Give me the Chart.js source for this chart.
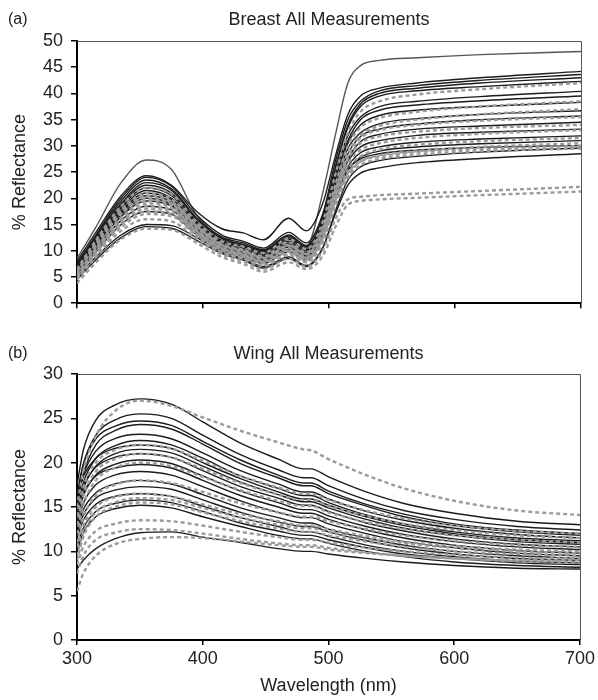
<!DOCTYPE html>
<html>
<head>
<meta charset="utf-8">
<script src="https://cdn.jsdelivr.net/npm/chart.js@4.4.1/dist/chart.umd.min.js"></script>
<style>
body{margin:0;background:#fff;}
canvas{display:block;}
</style>
</head>
<body>
<canvas id="chart-breast" width="598" height="322"></canvas>
<canvas id="chart-wing" width="598" height="378"></canvas>
<script>
// === Dados ===
const xTicks = [300, 400, 500, 600, 700];

// (a) Breast
const breastWl = [300, 315, 335, 355, 375, 395, 415, 432, 448, 468, 482, 495, 505, 515, 525, 540, 570, 620, 700];

const breastTop = [8.5, 14.5, 23, 27.3, 25.5, 16.8, 12.5, 11, 9.8, 12.3, 10.8, 21, 32, 42, 45.3, 46.3, 46.8, 47.4, 48];

const breastSolid = [
  [8, 13.5, 20.5, 24.3, 22.5, 17.5, 14.2, 13.4, 12.1, 16.2, 13.8, 19, 28, 36, 39.5, 41, 42, 43, 44.2],
  [7.5, 13, 20, 24, 22.3, 16.8, 13, 11.8, 10.5, 13.5, 11.5, 17, 27, 35, 38.5, 40.5, 41.5, 42.5, 43.6],
  [7.5, 12.8, 19.5, 23.5, 21.8, 16.3, 12.6, 11.5, 10.2, 13, 11, 16.5, 26, 34, 38, 40, 41, 42, 43],
  [7, 12.5, 19, 23, 21.5, 16, 12.3, 11.2, 10, 12.8, 10.8, 16, 25.5, 33.5, 37.5, 39.5, 40.5, 41.3, 42.3],
  [7.2, 12.2, 18.7, 22.5, 21, 15.6, 12, 11, 9.8, 12.5, 10.5, 15.5, 24.5, 32, 35.5, 37.5, 38.5, 39.4, 40.4],
  [6.8, 12, 18.3, 22, 20.5, 15.3, 11.8, 10.8, 9.5, 12.2, 10.2, 15, 24, 31, 35, 36.8, 37.8, 38.6, 39.5],
  [6.5, 11.8, 18, 21.5, 20, 15, 11.5, 10.5, 9.2, 11.8, 10, 14.8, 23.5, 30.5, 34, 35.8, 36.8, 37.5, 38.3],
  [6.5, 11.5, 17.5, 21, 19.7, 14.8, 11.3, 10.2, 9, 11.5, 9.7, 14.5, 22.5, 29.5, 32.5, 34.2, 35.2, 36, 36.7],
  [6.3, 11.2, 17.2, 20.5, 19.3, 14.5, 11, 10, 8.8, 11.2, 9.5, 14, 22, 28.5, 31.8, 33.2, 34.2, 35, 35.7],
  [6.2, 11, 16.8, 20, 18.8, 14.2, 10.8, 9.8, 8.6, 11, 9.3, 13.5, 21.5, 27.5, 30.8, 32.2, 33.2, 33.8, 34.5],
  [6, 10.8, 16.5, 19.5, 18.5, 14, 10.6, 9.5, 8.3, 10.7, 9, 13.2, 21, 27, 29.8, 31, 32, 32.6, 33.2],
  [5.8, 10.3, 15.8, 18.5, 17.8, 13.5, 10.3, 9.2, 8, 10.3, 8.7, 12.8, 20, 26, 28.7, 29.8, 30.7, 31.3, 31.9],
  [5.5, 9.8, 15, 17.5, 17, 13, 10, 8.8, 7.6, 9.8, 8.3, 12.3, 19.5, 25.3, 27.8, 29, 29.8, 30.4, 31],
  [6.5, 11.4, 17.6, 21, 19.8, 14.8, 11.2, 10, 8.8, 11.3, 9.5, 13.8, 20.5, 25.5, 27.5, 28.5, 29.2, 29.7, 30.1],
  [5, 8.8, 13, 15, 14.8, 12.5, 9.8, 8.5, 7, 8.8, 7.2, 10.5, 17, 22.5, 24.8, 25.8, 26.8, 27.6, 28.5],
  [4.5, 8.3, 12.5, 14.6, 14.3, 12, 9.5, 8.2, 6.7, 8.5, 7, 10.5, 17.5, 23.5, 26, 27.2, 28, 28.8, 29.6]
];

const breastDashed = [
  [6.5, 12, 18.5, 22, 20.8, 15.5, 11.8, 10.8, 9.6, 12.3, 10.3, 15.5, 24.5, 32.5, 36.5, 38.5, 39.8, 40.8, 42],
  [6.2, 11.5, 17.8, 21, 19.8, 15, 11.3, 10.2, 9, 11.6, 9.7, 14.5, 22.5, 30, 33.5, 35.3, 36.5, 37.5, 38.5],
  [6, 11, 17, 20, 19, 14.5, 11, 9.8, 8.6, 11, 9.3, 14, 21.5, 28.5, 32, 33.8, 35, 36, 37],
  [5.5, 10.5, 16.3, 19.5, 18.6, 14, 10.6, 9.4, 8.2, 10.5, 8.8, 13, 20.5, 26.5, 29.2, 30.5, 31.5, 32.3, 33],
  [5.2, 10, 15.6, 18.5, 17.8, 13.6, 10.3, 9, 7.8, 10, 8.5, 12.5, 19.5, 25.5, 28, 29.3, 30.2, 30.9, 31.5],
  [5, 9.5, 15, 17.5, 17, 13, 9.8, 8.6, 7.3, 9.5, 8, 12, 19, 24.5, 27, 28.2, 29, 29.8, 30.5],
  [4.5, 8.8, 13.8, 16, 15.6, 12.3, 9.3, 8, 6.5, 8.5, 7, 10, 16, 19.8, 20.3, 20.6, 20.9, 21.4, 22.2],
  [3.8, 7.8, 12.2, 14.2, 14, 11.5, 8.8, 7.5, 6, 7.8, 6.5, 9, 14.5, 18.8, 19.5, 19.8, 20.1, 20.6, 21.3],
  [6, 11.2, 17.3, 20.5, 19.4, 14.7, 11.1, 10, 8.7, 11.1, 9.4, 13.8, 21.5, 27.5, 30.5, 31.8, 32.7, 33.4, 34],
  [5.3, 10.3, 16, 19, 18.2, 13.8, 10.5, 9.3, 8, 10.2, 8.6, 12.5, 19.5, 24.8, 27, 28, 28.8, 29.4, 30],
  [4.8, 9.8, 15.3, 18, 17.4, 13.3, 10.1, 8.9, 7.6, 9.8, 8.2, 12.5, 20.5, 28, 31.5, 33, 34, 34.8, 35.5],
  [4.5, 9.3, 14.5, 17, 16.6, 12.8, 9.7, 8.5, 7.1, 9.2, 7.8, 11.5, 18.5, 24, 26.3, 27.5, 28.3, 29, 29.5]
];

// (b) Wing
const wingWl = [300, 305, 315, 330, 350, 375, 400, 430, 460, 480, 486, 500, 530, 560, 600, 650, 700];

const wingSolid = [
  [17.5, 21.4, 24.8, 26.5, 27.2, 26.6, 24.6, 22.2, 20.4, 19.3, 19.3, 18.4, 16.7, 15.4, 14.3, 13.4, 13],
  [16, 19.8, 23.1, 24.8, 25.5, 25, 23.1, 20.9, 19.2, 18.3, 18.3, 17.4, 15.8, 14.6, 13.6, 12.8, 12.4],
  [16.5, 19.8, 22.7, 24.1, 24.7, 24.2, 22.4, 20.3, 18.6, 17.7, 17.7, 16.8, 15.3, 14.2, 13.1, 12.4, 12],
  [15, 18.7, 22, 23.6, 24.3, 23.8, 22.1, 19.9, 18.3, 17.4, 17.4, 16.5, 15.1, 13.9, 12.9, 12.2, 11.8],
  [15.5, 18.6, 21.3, 22.7, 23.2, 22.7, 21.1, 19.1, 17.6, 16.7, 16.7, 15.9, 14.5, 13.5, 12.6, 11.9, 11.5],
  [14.5, 17.7, 20.5, 21.9, 22.5, 22, 20.5, 18.5, 17.1, 16.3, 16.3, 15.5, 14.1, 13.1, 12.2, 11.5, 11.2],
  [16, 18.4, 20.5, 21.6, 22, 21.6, 20, 18.2, 16.7, 15.9, 15.9, 15.2, 13.9, 12.9, 12, 11.3, 11],
  [14, 17, 19.6, 21, 21.5, 21.1, 19.6, 17.8, 16.4, 15.6, 15.6, 14.9, 13.6, 12.6, 11.8, 11.1, 10.8],
  [15, 17.4, 19.5, 20.6, 21, 20.6, 19.1, 17.3, 16, 15.2, 15.2, 14.5, 13.2, 12.3, 11.4, 10.8, 10.5],
  [13.5, 16.2, 18.6, 19.8, 20.3, 19.9, 18.5, 16.8, 15.5, 14.7, 14.7, 14, 12.8, 11.9, 11.1, 10.5, 10.2],
  [14.5, 16.6, 18.5, 19.4, 19.8, 19.4, 18, 16.3, 15, 14.3, 14.3, 13.6, 12.4, 11.5, 10.7, 10.1, 9.8],
  [13, 15.4, 17.5, 18.6, 19, 18.6, 17.3, 15.7, 14.4, 13.8, 13.8, 13.1, 12, 11.1, 10.4, 9.8, 9.5],
  [12.5, 14.7, 16.6, 17.6, 18, 17.6, 16.4, 14.9, 13.8, 13.2, 13.2, 12.5, 11.5, 10.7, 10, 9.5, 9.2],
  [12, 14.1, 16, 16.9, 17.3, 17, 15.8, 14.4, 13.3, 12.8, 12.8, 12.2, 11.2, 10.4, 9.7, 9.2, 9],
  [11.5, 13.5, 15.3, 16.2, 16.5, 16.2, 15.1, 13.8, 12.8, 12.2, 12.2, 11.7, 10.7, 10, 9.4, 8.9, 8.7],
  [10.5, 12.6, 14.5, 15.4, 15.8, 15.5, 14.5, 13.2, 12.3, 11.8, 11.8, 11.3, 10.4, 9.7, 9.2, 8.7, 8.5],
  [10, 12.1, 13.9, 14.8, 15.2, 14.9, 13.9, 12.8, 11.8, 11.4, 11.4, 10.9, 10, 9.4, 8.8, 8.4, 8.2],
  [8, 9, 10.3, 11.4, 12.1, 12.2, 11.6, 11, 10.3, 10, 10, 9.7, 9.2, 8.8, 8.4, 8.1, 8]
];

const wingDashed = [
  [15, 19, 23, 25.8, 27, 26.4, 25.1, 23.6, 22.3, 21.5, 21.4, 20.4, 18.6, 17.1, 15.7, 14.6, 14.1],
  [14, 17.2, 20, 21.4, 22, 21.6, 20.2, 18.5, 17.2, 16.5, 16.5, 15.8, 14.6, 13.7, 12.9, 12.3, 12],
  [13, 16.2, 19, 20.4, 21, 20.6, 19.3, 17.7, 16.4, 15.8, 15.8, 15.1, 14, 13.1, 12.4, 11.8, 11.5],
  [12, 15.2, 18, 19.4, 20, 19.6, 18.4, 16.9, 15.7, 15.1, 15.1, 14.4, 13.3, 12.5, 11.8, 11.3, 11],
  [11, 13.8, 16.3, 17.5, 18, 17.7, 16.7, 15.4, 14.4, 13.9, 13.9, 13.4, 12.5, 11.8, 11.2, 10.7, 10.5],
  [10.5, 12.9, 15, 16.1, 16.5, 16.2, 15.3, 14.2, 13.4, 12.9, 12.9, 12.5, 11.7, 11.1, 10.6, 10.2, 10],
  [9.5, 12.1, 14.4, 15.5, 16, 15.8, 14.9, 13.8, 13, 12.6, 12.6, 12.2, 11.4, 10.9, 10.4, 10, 9.8],
  [9, 11.6, 13.9, 15, 15.5, 15.3, 14.4, 13.4, 12.6, 12.2, 12.2, 11.8, 11.1, 10.5, 10, 9.7, 9.5],
  [8.5, 10.5, 12.3, 13.1, 13.5, 13.4, 12.9, 12.2, 11.6, 11.3, 11.3, 11, 10.4, 10, 9.6, 9.3, 9.2],
  [7.5, 9.5, 11.3, 12.1, 12.5, 12.4, 12, 11.4, 10.9, 10.7, 10.7, 10.4, 9.9, 9.5, 9.2, 8.9, 8.8],
  [5.5, 7.5, 9.5, 10.8, 11.4, 11.6, 11.5, 11.1, 10.7, 10.5, 10.5, 10.2, 9.8, 9.5, 9.2, 9, 9]
];

// === Estilo ===
const FONT = "'Liberation Sans', Arial, sans-serif";
const BLACK = "#1c1c1c";
const GRAY = "#9b9b9b";

function toPoints(wl, ys){
  return ys.map((y,i)=>({x:wl[i], y}));
}

function solidSet(wl, ys, color){
  return {data:toPoints(wl,ys), borderColor:color||BLACK, borderWidth:1.4, pointRadius:0, cubicInterpolationMode:"monotone", order:2};
}

function dashedSet(wl, ys){
  return {data:toPoints(wl,ys), borderColor:GRAY, borderWidth:2.4, borderDash:[4,3], pointRadius:0, cubicInterpolationMode:"monotone", order:1};
}

// titulo, letra do painel e moldura superior/direita
const panelText = {
  id:"panelText",
  afterDraw(chart, args, opts){
    const ctx = chart.ctx, a = chart.chartArea;
    ctx.save();
    ctx.strokeStyle = "#555";
    ctx.lineWidth = 1;
    ctx.beginPath();
    ctx.moveTo(a.left, a.top+0.5);
    ctx.lineTo(a.right+0.5, a.top+0.5);
    ctx.lineTo(a.right+0.5, a.bottom);
    ctx.stroke();
    ctx.fillStyle = "#222";
    ctx.textBaseline = "middle";
    ctx.font = "16px " + FONT;
    ctx.textAlign = "left";
    ctx.fillText(opts.letter, 8, opts.y);
    ctx.font = "18px " + FONT;
    ctx.textAlign = "center";
    ctx.fillText(opts.title, (a.left+a.right)/2, opts.y);
    ctx.restore();
  }
};

function makeChart(id, datasets, cfg){
  return new Chart(document.getElementById(id), {
    type:"line",
    data:{datasets},
    plugins:[panelText],
    options:{
      responsive:false,
      animation:false,
      layout:{padding:{top:cfg.padTop, right:17, left:0, bottom:0}},
      plugins:{
        legend:{display:false},
        tooltip:{enabled:false},
        panelText:{letter:cfg.letter, title:cfg.title, y:cfg.titleY}
      },
      scales:{
        x:{
          type:"linear", min:300, max:700,
          afterBuildTicks:s=>{ s.ticks = xTicks.map(v=>({value:v})); },
          afterFit:s=>{ s.height = cfg.xHeight; },
          grid:{drawOnChartArea:false, color:"#000", lineWidth:1.5, tickLength:5},
          border:{color:"#000", width:2},
          ticks:{display:cfg.showX, color:"#222", font:{family:FONT, size:18}, padding:3, maxRotation:0},
          title:{display:cfg.showX, text:"Wavelength (nm)", color:"#222", font:{family:FONT, size:18}, padding:{top:0,bottom:3}}
        },
        y:{
          min:0, max:cfg.yMax,
          afterFit:s=>{ s.width = 77; },
          grid:{drawOnChartArea:false, color:"#000", lineWidth:1.5, tickLength:6},
          border:{color:"#000", width:2},
          ticks:{stepSize:5, color:"#222", font:{family:FONT, size:18}, padding:8},
          title:{display:true, text:"% Reflectance", color:"#222", font:{family:FONT, size:18}, padding:{top:9,bottom:0}}
        }
      }
    }
  });
}

// === Montagem ===
const breastSets = [
  ...breastDashed.map(ys=>dashedSet(breastWl, ys)),
  ...breastSolid.map(ys=>solidSet(breastWl, ys)),
  solidSet(breastWl, breastTop, "#555")
];

const wingSets = [
  ...wingDashed.map(ys=>dashedSet(wingWl, ys)),
  ...wingSolid.map(ys=>solidSet(wingWl, ys))
];

makeChart("chart-breast", breastSets, {padTop:41, xHeight:16, showX:false, yMax:50, letter:"(a)", title:"Breast All Measurements", titleY:20});
makeChart("chart-wing", wingSets, {padTop:52, xHeight:60, showX:true, yMax:30, letter:"(b)", title:"Wing All Measurements", titleY:32});
</script>
</body>
</html>
